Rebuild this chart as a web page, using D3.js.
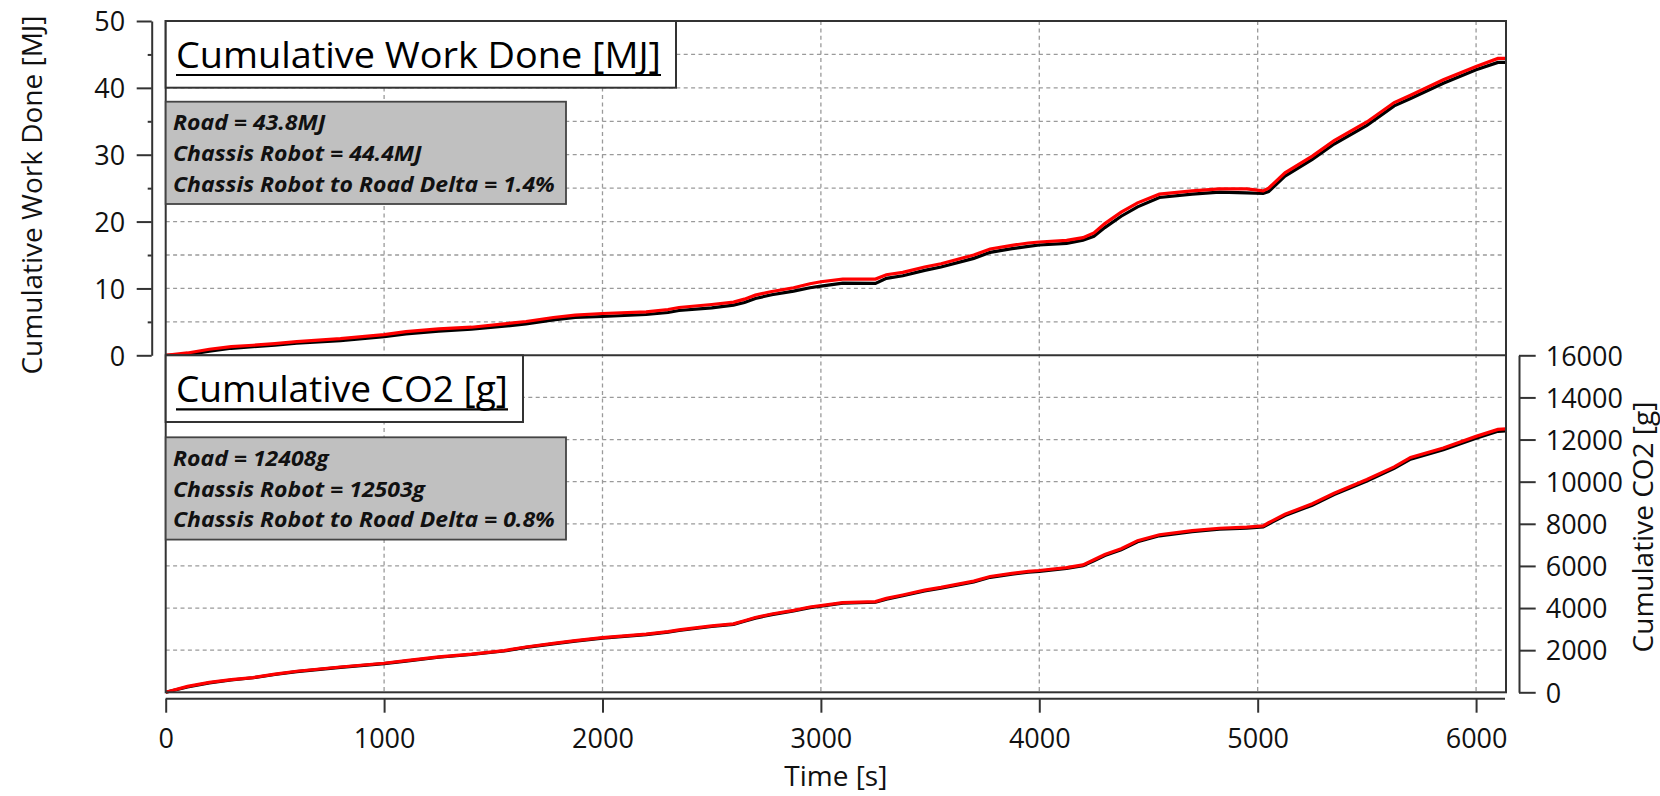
<!DOCTYPE html>
<html>
<head>
<meta charset="utf-8">
<script src="https://cdn.jsdelivr.net/npm/d3@7"></script>
<style>
  html, body { margin: 0; padding: 0; background: #ffffff; }
  svg { display: block; font-family: "Open Sans", "Noto Sans", sans-serif; }
</style>
</head>
<body>
<svg id="chart" width="1660" height="796"></svg>
<script>
// ---- data -------------------------------------------------------------
const timeS = [0, 100, 200, 300, 400, 500, 600, 800, 1000, 1100, 1250, 1400, 1550, 1650, 1775, 1875,
  2000, 2200, 2300, 2350, 2500, 2600, 2650, 2700, 2775, 2875, 2950, 3000, 3100, 3250, 3300, 3375,
  3475, 3550, 3700, 3775, 3875, 3950, 4000, 4125, 4200, 4250, 4300, 4375, 4450, 4550, 4700, 4825,
  4950, 5025, 5050, 5125, 5250, 5350, 5500, 5625, 5700, 5850, 6000, 6100, 6137];

// cumulative work [MJ]
const roadWork = [0, 0.1, 0.6, 1.05, 1.3, 1.5, 1.8, 2.2, 2.8, 3.2, 3.6, 3.9, 4.35, 4.7, 5.3, 5.65,
  5.8, 6.1, 6.4, 6.7, 7.1, 7.5, 7.9, 8.5, 9.05, 9.6, 10.1, 10.35, 10.8, 10.75, 11.5, 11.9,
  12.7, 13.2, 14.5, 15.4, 15.95, 16.3, 16.5, 16.75, 17.2, 17.8, 19.1, 20.8, 22.2, 23.6, 24.1, 24.4,
  24.3, 24.2, 24.5, 26.8, 29.3, 31.6, 34.4, 37.3, 38.4, 40.7, 42.7, 43.8, 43.8];
const robotWork = [0, 0.35, 0.9, 1.3, 1.5, 1.75, 2.05, 2.5, 3.1, 3.55, 3.95, 4.2, 4.7, 5.05, 5.65, 6.0,
  6.25, 6.5, 6.85, 7.15, 7.6, 7.95, 8.4, 9.0, 9.55, 10.1, 10.7, 11.0, 11.4, 11.4, 12.05, 12.4,
  13.2, 13.7, 15.0, 15.9, 16.45, 16.8, 16.95, 17.2, 17.6, 18.3, 19.7, 21.4, 22.8, 24.1, 24.6, 24.9,
  24.9, 24.6, 25.0, 27.3, 29.8, 32.1, 34.9, 37.8, 38.9, 41.2, 43.2, 44.4, 44.4];

// cumulative CO2 [g]
const roadCO2 = [0, 250, 450, 585, 690, 845, 985, 1185, 1360, 1480, 1665, 1795, 1960, 2130, 2300, 2430,
  2575, 2740, 2855, 2935, 3125, 3225, 3370, 3520, 3690, 3860, 4020, 4085, 4230, 4275, 4425, 4585,
  4810, 4945, 5240, 5460, 5610, 5700, 5745, 5880, 6010, 6245, 6495, 6770, 7150, 7430, 7630, 7740,
  7790, 7850, 7990, 8390, 8885, 9385, 10030, 10630, 11070, 11520, 12065, 12390, 12408];
const robotCO2 = [0, 280, 470, 600, 700, 860, 1000, 1200, 1378, 1500, 1680, 1810, 1980, 2150, 2320, 2450,
  2596, 2760, 2880, 2960, 3150, 3250, 3400, 3550, 3720, 3890, 4050, 4117, 4260, 4307, 4460, 4620,
  4850, 4980, 5280, 5500, 5650, 5740, 5782, 5920, 6050, 6290, 6540, 6820, 7200, 7480, 7680, 7790,
  7840, 7900, 8050, 8450, 8950, 9450, 10100, 10700, 11150, 11600, 12150, 12480, 12503];

const timeTicks = [0, 1000, 2000, 3000, 4000, 5000, 6000];
const workTicks = [0, 10, 20, 30, 40, 50];
const workMinorTicks = [5, 15, 25, 35, 45];
const workGrid = [5, 10, 15, 20, 25, 30, 35, 40, 45];
const co2Ticks = [0, 2000, 4000, 6000, 8000, 10000, 12000, 14000, 16000];
const co2Grid = [2000, 4000, 6000, 8000, 10000, 12000, 14000];

const workTitle = "Cumulative Work Done [MJ]";
const co2Title = "Cumulative CO2 [g]";
const workNotes = ["Road = 43.8MJ", "Chassis Robot = 44.4MJ", "Chassis Robot to Road Delta = 1.4%"];
const co2Notes = ["Road = 12408g", "Chassis Robot = 12503g", "Chassis Robot to Road Delta = 0.8%"];
const workAxisLabel = "Cumulative Work Done [MJ]";
const co2AxisLabel = "Cumulative CO2 [g]";
const timeAxisLabel = "Time [s]";

// ---- layout -----------------------------------------------------------
const plotL = 165.7, plotR = 1506;
const topT = 21, mid = 355.3, botB = 692.3;
const frameColor = "#333333";
const gridColor = "#9a9a9a";

const svg = d3.select("#chart");

const x = d3.scaleLinear().domain([0, 6137]).range([plotL, plotR]);
const yW = d3.scaleLinear().domain([0, 50]).range([mid, topT]);
const yC = d3.scaleLinear().domain([0, 16000]).range([botB, mid]);

// ---- grid -------------------------------------------------------------
const grid = svg.append("g")
  .attr("stroke", gridColor).attr("stroke-width", 1.3).attr("stroke-dasharray", "4,3.4");
grid.selectAll("line.vx").data(timeTicks.filter(t => t > 0)).join("line")
  .attr("x1", d => x(d)).attr("x2", d => x(d)).attr("y1", topT).attr("y2", botB);
grid.selectAll("line.hw").data(workGrid).join("line")
  .attr("x1", plotL).attr("x2", plotR).attr("y1", d => yW(d)).attr("y2", d => yW(d));
grid.selectAll("line.hc").data(co2Grid).join("line")
  .attr("x1", plotL).attr("x2", plotR).attr("y1", d => yC(d)).attr("y2", d => yC(d));

// ---- series -----------------------------------------------------------
const workLine = d3.line().x(d => x(d[0])).y(d => yW(d[1]));
const co2Line = d3.line().x(d => x(d[0])).y(d => yC(d[1]));

const series = svg.append("g").attr("fill", "none").attr("stroke-width", 3.2)
  .attr("stroke-linejoin", "miter");
series.append("path").attr("d", workLine(d3.zip(timeS, roadWork))).attr("stroke", "#000000");
series.append("path").attr("d", workLine(d3.zip(timeS, robotWork))).attr("stroke", "#ff0000");
series.append("path").attr("d", co2Line(d3.zip(timeS, roadCO2))).attr("stroke", "#000000");
series.append("path").attr("d", co2Line(d3.zip(timeS, robotCO2))).attr("stroke", "#ff0000");

// ---- panel frames -----------------------------------------------------
const frames = svg.append("g").attr("fill", "none").attr("stroke", frameColor).attr("stroke-width", 2);
frames.append("rect").attr("x", plotL).attr("y", topT).attr("width", plotR - plotL).attr("height", botB - topT);
frames.append("line").attr("x1", plotL).attr("x2", plotR).attr("y1", mid).attr("y2", mid);

// ---- title boxes ------------------------------------------------------
function titleBox(top, right, label, textWidth) {
  const g = svg.append("g");
  g.append("rect").attr("x", plotL).attr("y", top).attr("width", right - plotL).attr("height", 66.7)
    .attr("fill", "#ffffff").attr("stroke", frameColor).attr("stroke-width", 2);
  g.append("text").attr("x", 176).attr("y", top + 47)
    .attr("font-size", 36).attr("fill", "#000")
    .attr("textLength", textWidth).attr("lengthAdjust", "spacingAndGlyphs").text(label);
  g.append("line").attr("x1", 176).attr("x2", 176 + textWidth).attr("y1", top + 54).attr("y2", top + 54)
    .attr("stroke", "#000").attr("stroke-width", 2.2);
}
titleBox(topT, 676, workTitle, 485);
titleBox(mid, 523, co2Title, 332);

// ---- note boxes -------------------------------------------------------
function noteBox(top, lines) {
  const g = svg.append("g");
  g.append("rect").attr("x", plotL).attr("y", top).attr("width", 566 - plotL).attr("height", 102.3)
    .attr("fill", "#c0c0c0").attr("stroke", "#444444").attr("stroke-width", 1.8);
  const tg = g.append("g");
  const texts = tg.selectAll("text").data(lines).join("text")
    .attr("x", 0).attr("y", (d, i) => i * 30.8)
    .attr("font-size", 22).attr("font-weight", "bold").attr("font-style", "italic")
    .attr("fill", "#111").text(d => d);
  const widest = d3.max(texts.nodes(), n => n.getComputedTextLength());
  tg.attr("transform", `translate(173,${top + 28.6}) scale(${382 / widest},1)`);
}
noteBox(101.7, workNotes);
noteBox(437.3, co2Notes);

// ---- axes -------------------------------------------------------------
function styleAxis(g) {
  g.select(".domain").attr("stroke", frameColor).attr("stroke-width", 2);
  g.selectAll(".tick line").attr("stroke", frameColor).attr("stroke-width", 2);
  g.selectAll(".tick text").attr("fill", "#111").attr("font-size", 27)
    .attr("font-family", "'Open Sans', 'Noto Sans', sans-serif");
}

const leftAxis = svg.append("g").attr("transform", "translate(151.7,0)")
  .call(d3.axisLeft(yW).tickValues(workTicks).tickSize(15).tickSizeOuter(0).tickPadding(11.5)
    .tickFormat(d3.format("d")));
styleAxis(leftAxis);
leftAxis.selectAll(".tick text").attr("dy", "0.36em");

svg.append("g").attr("transform", "translate(151.7,0)")
  .call(d3.axisLeft(yW).tickValues(workMinorTicks).tickSize(4).tickSizeOuter(0).tickFormat(""))
  .call(g => g.select(".domain").remove())
  .selectAll(".tick line").attr("stroke", frameColor).attr("stroke-width", 2);

const rightAxis = svg.append("g").attr("transform", "translate(1519,0)")
  .call(d3.axisRight(yC).tickValues(co2Ticks).tickSize(16.7).tickSizeOuter(0).tickPadding(10)
    .tickFormat(d3.format("d")));
styleAxis(rightAxis);
rightAxis.selectAll(".tick text").attr("dy", "0.36em");

const bottomAxis = svg.append("g").attr("transform", "translate(0,698.7)")
  .call(d3.axisBottom(x).tickValues(timeTicks).tickSize(14).tickSizeOuter(0).tickPadding(16.5)
    .tickFormat(d3.format("d")));
styleAxis(bottomAxis);
bottomAxis.select(".domain").attr("d", `M${plotL},0H${plotR - 1}`);

// ---- axis titles ------------------------------------------------------
svg.append("text").attr("transform", "translate(42,195) rotate(-90)")
  .attr("text-anchor", "middle").attr("font-size", 28).attr("fill", "#111").text(workAxisLabel);
svg.append("text").attr("transform", "translate(1653,527) rotate(-90)")
  .attr("text-anchor", "middle").attr("font-size", 28).attr("fill", "#111").text(co2AxisLabel);
svg.append("text").attr("x", (plotL + plotR) / 2).attr("y", 786)
  .attr("text-anchor", "middle").attr("font-size", 28).attr("fill", "#111").text(timeAxisLabel);
</script>
</body>
</html>
